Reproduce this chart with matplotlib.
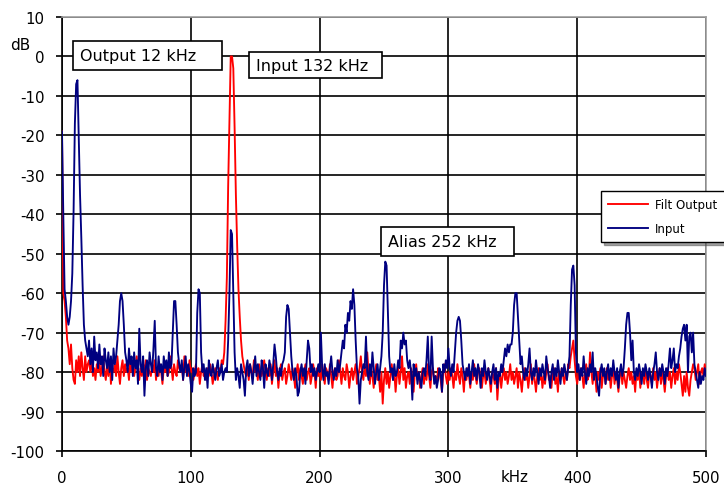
import numpy as np
import matplotlib
matplotlib.use("Agg")
import matplotlib.pyplot as plt
from matplotlib.patches import Rectangle

plt.rcParams["axes.unicode_minus"] = False

# spectrum bins, 1 kHz apart, 0..500 kHz
freq_khz = np.arange(0, 501)

# filtered output spectrum (dB), one value per kHz bin
filt_output_db = [
    -19, -60, -62, -66, -72, -74, -78, -73, -79, -82,
    -83, -77, -80, -76, -81, -75, -79, -82, -76, -80,
    -78, -77, -80, -76, -81, -79, -82, -78, -80, -77,
    -81, -79, -76, -80, -82, -78, -81, -77, -83, -79,
    -80, -78, -81, -76, -80, -83, -79, -77, -81, -78,
    -80, -79, -82, -77, -80, -78, -81, -79, -76, -80,
    -82, -79, -81, -78, -80, -77, -82, -79, -80, -81,
    -78, -80, -77, -82, -79, -81, -78, -80, -83, -79,
    -80, -78, -81, -80, -76, -79, -82, -78, -80, -81,
    -77, -79, -80, -78, -82, -76, -80, -79, -81, -77,
    -80, -79, -82, -80, -78, -81, -79, -83, -80, -78,
    -81, -80, -82, -79, -81, -78, -80, -83, -81, -79,
    -80, -82, -79, -80, -77, -78, -75, -67, -56, -33,
    -16, 0, 0, -3, -18, -35, -48, -59, -66, -72,
    -76, -78, -80, -81, -79, -82, -78, -80, -81, -77,
    -80, -79, -82, -78, -80, -81, -79, -77, -80, -82,
    -79, -81, -78, -83, -80, -77, -81, -79, -84, -80,
    -78, -82, -80, -79, -83, -81, -78, -80, -82, -79,
    -81, -84, -80, -78, -82, -79, -81, -83, -80, -78,
    -82, -80, -79, -83, -81, -78, -80, -84, -79, -81,
    -80, -82, -78, -81, -83, -79, -80, -82, -78, -81,
    -84, -80, -79, -82, -81, -77, -80, -83, -79, -81,
    -82, -78, -80, -84, -81, -79, -82, -80, -78, -83,
    -81, -79, -76, -80, -82, -78, -81, -75, -80, -83,
    -79, -81, -84, -80, -78, -82, -81, -85, -80, -88,
    -82, -79, -83, -80, -84, -81, -78, -82, -80, -85,
    -81, -79, -83, -80, -76, -82, -79, -84, -81, -80,
    -83, -79, -81, -85, -80, -78, -82, -80, -84, -81,
    -79, -83, -80, -82, -78, -81, -84, -80, -79, -82,
    -81, -83, -79, -80, -82, -85, -80, -78, -81, -83,
    -80, -82, -79, -81, -84, -80, -82, -78, -81, -83,
    -79, -81, -85, -80, -82, -79, -81, -84, -80, -82,
    -78, -81, -83, -80, -79, -82, -84, -81, -80, -83,
    -81, -79, -82, -85, -80, -81, -83, -79, -87, -82,
    -80, -84, -81, -79, -82, -80, -83, -81, -78, -82,
    -80, -83, -81, -79, -84, -80, -82, -85, -81, -79,
    -82, -80, -84, -81, -78, -83, -80, -82, -85, -81,
    -79, -82, -80, -84, -81, -83, -80, -78, -82, -81,
    -84, -80, -79, -83, -81, -85, -80, -82, -79, -81,
    -83, -80, -82, -78, -79, -76, -74, -72, -77, -81,
    -83, -80, -82, -79, -81, -84, -80, -78, -82, -81,
    -75, -80, -83, -79, -81, -85, -80, -82, -79, -84,
    -81, -80, -83, -79, -82, -80, -84, -81, -79, -83,
    -80, -82, -85, -81, -79, -83, -80, -82, -84, -81,
    -79, -82, -80, -83, -81, -85, -80, -82, -79, -84,
    -81, -80, -83, -79, -82, -84, -80, -81, -83, -79,
    -82, -80, -84, -81, -79, -83, -80, -82, -85, -81,
    -79, -82, -80, -84, -81, -79, -83, -80, -82, -78,
    -80, -83, -86, -81, -85, -80, -84, -86, -82, -80,
    -78, -79, -82, -80, -78, -83, -80, -79, -81, -78,
    -80,
]

# input spectrum (dB), one value per kHz bin
input_db = [
    -19, -40, -59, -62, -66, -68, -66, -62, -55, -39,
    -17, -7, -6, -20, -35, -46, -58, -68, -72, -74,
    -76, -72, -78, -74, -80, -71, -77, -75, -79, -73,
    -78, -76, -81, -74, -77, -79, -75, -80, -76, -82,
    -74, -78, -76, -72, -68, -62, -60, -62, -68, -75,
    -77, -80, -74, -78, -76, -81, -75, -79, -77, -83,
    -69, -78, -80, -76, -86, -79, -77, -81, -75, -78,
    -80, -74, -67, -79, -81, -76, -80, -78, -82, -76,
    -79, -77, -81, -75, -79, -78, -70, -62, -62, -68,
    -75, -78, -80, -77, -82, -79, -76, -81, -78, -80,
    -83, -85, -79, -81, -80, -65, -59, -60, -75, -80,
    -78, -82, -79, -84, -77, -80, -81, -78, -80, -82,
    -79, -77, -81, -80, -78, -82, -80, -79, -80, -72,
    -60, -44, -45, -60, -75, -82, -79, -81, -84, -78,
    -80, -82, -86, -79, -77, -81, -78, -80, -83, -79,
    -76, -81, -78, -80, -82, -77, -79, -84, -78, -80,
    -81, -77, -79, -82, -78, -73, -76, -80, -82, -79,
    -81, -78, -77, -75, -66, -63, -64, -70, -76, -80,
    -82, -79, -81, -86, -85, -80, -78, -81, -79, -83,
    -77, -72, -74, -80, -78, -81, -79, -82, -80, -78,
    -80, -70, -79, -82, -78, -81, -80, -83, -79, -76,
    -80, -82, -79, -81, -77, -80, -78, -75, -72, -74,
    -68, -70, -65, -67, -62, -64, -59, -63, -72, -79,
    -81, -88, -82, -80, -78, -79, -71, -80, -82, -78,
    -81, -75, -79, -83, -80, -78, -82, -79, -76, -70,
    -58, -52, -53, -65, -76, -80, -79, -82, -78, -81,
    -80, -77, -79, -72, -74, -70, -73, -72, -77, -79,
    -77, -80, -87, -78, -81, -79, -83, -80, -82, -84,
    -80, -79, -81, -77, -71, -80, -82, -71, -79, -83,
    -81, -84, -82, -79, -80, -85, -78, -80, -77, -79,
    -74, -79, -81, -78, -80, -75, -70, -67, -66, -67,
    -72, -78, -80, -82, -79, -81, -78, -83, -80, -77,
    -81, -79, -82, -78, -80, -84, -79, -81, -77, -80,
    -82, -79, -81, -83, -80, -78, -82, -79, -84, -80,
    -81, -78, -80, -77, -74, -76, -73, -75, -73, -73,
    -70, -63, -60, -60, -66, -72, -78, -76, -80, -82,
    -79, -81, -78, -74, -80, -82, -79, -81, -77, -80,
    -83, -79, -81, -78, -80, -82, -76, -79, -81, -84,
    -80, -78, -82, -79, -81, -77, -80, -83, -79, -81,
    -78, -80, -82, -79, -76, -63, -54, -53, -58, -75,
    -80, -78, -82, -79, -81, -76, -80, -83, -79, -81,
    -78, -80, -75, -82, -79, -81, -84, -86, -80, -78,
    -81, -79, -83, -80, -78, -82, -79, -81, -77, -80,
    -82, -79, -84, -80, -78, -81, -79, -74, -68, -65,
    -65, -70, -77, -72, -80, -82, -79, -81, -78, -80,
    -83, -79, -81, -78, -80, -82, -79, -81, -84, -80,
    -78, -75, -80, -82, -79, -81, -78, -80, -83, -79,
    -81, -78, -74, -79, -77, -74, -80, -78, -79, -76,
    -74, -71, -69, -68, -72, -68, -80, -71, -70, -75,
    -70, -78, -80, -82, -84, -80, -83, -81, -82, -79,
    -81,
]

x_ticks = [0, 100, 200, 300, 400, 500]
y_ticks = list(range(-100, 11, 10))

W, H = 724, 489
fig = plt.figure(figsize=(W / 100, H / 100), dpi=100)
ax = fig.add_axes([62 / W, 37 / H, 644 / W, 434 / H])

ax.plot(freq_khz, filt_output_db, color="#ff0000", lw=1.35, label="Filt Output", zorder=3)
ax.plot(freq_khz, input_db, color="#000080", lw=1.35, label="Input", zorder=4)

ax.set_xlim(0, 500)
ax.set_ylim(-100, 10)
ax.set_xticks(x_ticks)
ax.set_yticks(y_ticks)
ax.grid(True, color="black", lw=1.2)
ax.set_axisbelow(True)

for side in ("left", "bottom"):
    ax.spines[side].set_color("black")
    ax.spines[side].set_linewidth(1.2)
for side in ("top", "right"):
    ax.spines[side].set_color("#a0a0a0")
    ax.spines[side].set_linewidth(1.2)

ax.tick_params(direction="out", length=4, width=1.2, labelsize=10.8)
ax.tick_params(axis="y", pad=8.5)
ax.tick_params(axis="x", pad=10)

# boxed callouts
def callout(x0, x1, y0, y1, text):
    ax.add_patch(Rectangle((x0, y0), x1 - x0, y1 - y0, facecolor="white",
                           edgecolor="black", lw=1.2, zorder=5))
    ax.text(x0 + 5.5, (y0 + y1) / 2, text, ha="left", va="center",
            fontsize=11.5, zorder=6)

callout(8.5, 124.2, -3.4, 3.9, "Output 12 kHz")
callout(145.2, 248.4, -5.5, 1.1, "Input 132 kHz")
callout(247.7, 350.9, -50.6, -43.2, "Alias 252 kHz")

fig.text(20 / W, 1 - 45 / H, "dB", ha="center", va="center", fontsize=11)
fig.text(515 / W, 1 - 478 / H, "kHz", ha="center", va="center", fontsize=10.8)

leg = ax.legend(loc="upper left", bbox_to_anchor=(601 / W, 1 - 192 / H),
                bbox_transform=fig.transFigure, fontsize=8.5, handlelength=3.4,
                handletextpad=0.6, borderpad=0.6, borderaxespad=0,
                fancybox=False, shadow=True, framealpha=1,
                edgecolor="black", labelspacing=0.9)
leg.get_frame().set_linewidth(1.0)
leg.set_zorder(7)

fig.savefig("out.png", dpi=100)
